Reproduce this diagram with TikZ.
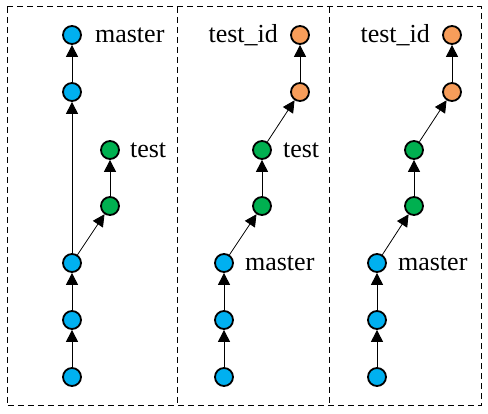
\documentclass[tikz,border=0pt]{standalone}
\usepackage{fontspec}
\setmainfont{Liberation Serif}
\newfontfamily\lblfont{Liberation Serif}
\usetikzlibrary{arrows.meta}
\definecolor{cblue}{RGB}{0,176,240}
\definecolor{cgreen}{RGB}{0,176,80}
\definecolor{corange}{RGB}{247,157,90}
\tikzset{
  commit/.style={circle,draw=black,line width=1.8pt,minimum size=18pt,inner sep=0pt},
  bc/.style={commit,fill=cblue},
  gc/.style={commit,fill=cgreen},
  oc/.style={commit,fill=corange},
  arr/.style={line width=1pt,-{Triangle[length=12pt,width=12pt]}},
  darr/.style={line width=0.8pt,-{Triangle[length=12pt,width=12pt]}},
  lbl/.style={font=\lblfont\fontsize{26}{26}\selectfont,inner sep=0pt},
  panel/.style={draw=black,line width=1pt,dash pattern=on 6pt off 4pt}
}
\begin{document}
\begin{tikzpicture}[x=1pt,y=-1pt]
\useasboundingbox (0,0) rectangle (488,414);
% panels
\draw[panel] (7,7) rectangle (481,406);
\draw[panel] (177,7) -- (177,406);
\draw[panel] (329,7) -- (329,406);
% panel 1
\node[bc] (a1) at (72,377) {};
\node[bc] (a2) at (72,320) {};
\node[bc] (a3) at (72,263) {};
\node[bc] (a4) at (72,92) {};
\node[bc] (a5) at (72,35) {};
\node[gc] (a6) at (110,206) {};
\node[gc] (a7) at (110,150) {};
\draw[arr] (a1) -- (a2);
\draw[arr] (a2) -- (a3);
\draw[arr] (a3) -- (a4);
\draw[arr] (a4) -- (a5);
\draw[darr] (a3) -- (a6);
\draw[arr] (a6) -- (a7);
\node[lbl,anchor=west] (la5) at ([xshift=13pt]a5.east) {master};
\node[lbl,anchor=west] (la7) at ([xshift=10pt]a7.east) {test};
% panel 2
\node[bc] (b1) at (224,377) {};
\node[bc] (b2) at (224,320) {};
\node[bc] (b3) at (224,263) {};
\node[gc] (b4) at (262,206) {};
\node[gc] (b5) at (262,150) {};
\node[oc] (b6) at (300,92) {};
\node[oc] (b7) at (300,35) {};
\draw[arr] (b1) -- (b2);
\draw[arr] (b2) -- (b3);
\draw[darr] (b3) -- (b4);
\draw[arr] (b4) -- (b5);
\draw[darr] (b5) -- (b6);
\draw[arr] (b6) -- (b7);
\node[lbl,anchor=east] (lb7) at ([xshift=-12pt]b7.west) {test\_id};
\node[lbl,anchor=west] (lb5) at ([xshift=11pt]b5.east) {test};
\node[lbl,anchor=west] (lb3) at ([xshift=11pt]b3.east) {master};
% panel 3
\node[bc] (c1) at (377,377) {};
\node[bc] (c2) at (377,320) {};
\node[bc] (c3) at (377,263) {};
\node[gc] (c4) at (414,206) {};
\node[gc] (c5) at (414,150) {};
\node[oc] (c6) at (452,92) {};
\node[oc] (c7) at (452,35) {};
\draw[arr] (c1) -- (c2);
\draw[arr] (c2) -- (c3);
\draw[darr] (c3) -- (c4);
\draw[arr] (c4) -- (c5);
\draw[darr] (c5) -- (c6);
\draw[arr] (c6) -- (c7);
\node[lbl,anchor=east] (lc7) at ([xshift=-12pt]c7.west) {test\_id};
\node[lbl,anchor=west] (lc3) at ([xshift=11pt]c3.east) {master};
\end{tikzpicture}
\end{document}
